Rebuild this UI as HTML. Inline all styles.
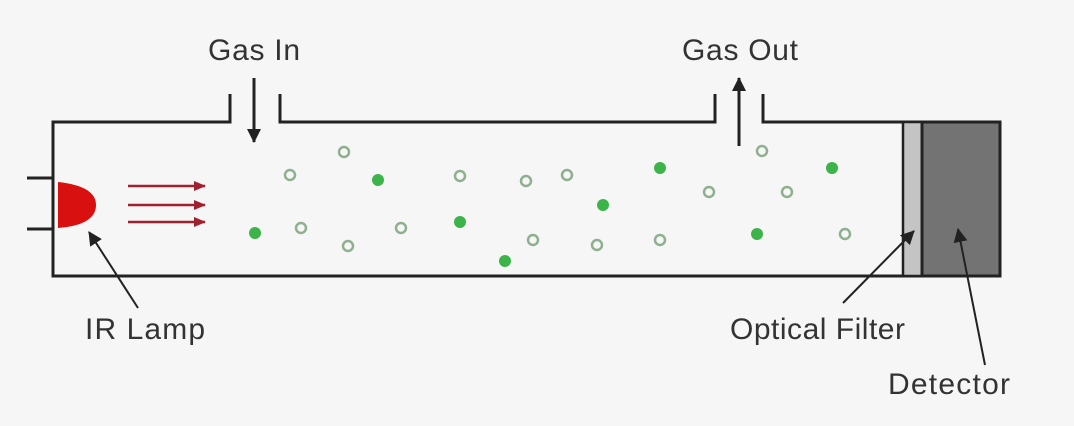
<!DOCTYPE html>
<html><head><style>
body{margin:0;background:#f6f6f6;}
svg{display:block}
text{font-family:"Liberation Sans",sans-serif;font-size:30px;fill:#333}
</style></head><body>
<svg width="1074" height="426" viewBox="0 0 1074 426">
<defs>
<marker id="b" markerWidth="14" markerHeight="14" refX="13" refY="7" orient="auto" markerUnits="userSpaceOnUse"><path d="M0,0 L14,7 L0,14z" fill="#222"/></marker>
<marker id="r" markerWidth="12" markerHeight="10" refX="11" refY="5" orient="auto" markerUnits="userSpaceOnUse"><path d="M0,0 L12,5 L0,10z" fill="#a02030"/></marker>
</defs>
<rect x="0" y="0" width="1074" height="426" fill="#f6f6f6"/>
<g stroke="#222" stroke-width="3" fill="none">
<path d="M230,94 V122 H53 V276 H1000 V122 H763 V94"/>
<path d="M280,94 V122 H715 V94"/>
<path d="M27,178 H53 M27,229 H53"/>
</g>
<rect x="903" y="122" width="19" height="154" fill="#c4c4c4" stroke="#222" stroke-width="2.5"/>
<rect x="922" y="122" width="78" height="154" fill="#737373" stroke="#222" stroke-width="3"/>
<path d="M58,182 Q96,186 96,205 Q96,225 58,228 Z" fill="#d81010"/>
<g stroke="#a02030" stroke-width="2.5" marker-end="url(#r)">
<line x1="128" y1="186" x2="205" y2="186"/>
<line x1="128" y1="205" x2="205" y2="205"/>
<line x1="128" y1="222" x2="205" y2="222"/>
</g>
<g stroke="#222" stroke-width="3">
<line x1="254" y1="78" x2="254" y2="142" marker-end="url(#b)"/>
<line x1="739" y1="146" x2="739" y2="78" marker-end="url(#b)"/>
</g>
<g stroke="#222" stroke-width="2">
<line x1="138" y1="308" x2="89" y2="232" marker-end="url(#b)"/>
<line x1="843" y1="303" x2="914" y2="231" marker-end="url(#b)"/>
<line x1="985" y1="365" x2="958" y2="229" marker-end="url(#b)"/>
</g>
<g fill="none" stroke="#8fb08f" stroke-width="2.5">
<circle cx="344" cy="152" r="5"/><circle cx="290" cy="175" r="5"/><circle cx="460" cy="176" r="5"/>
<circle cx="526" cy="181" r="5"/><circle cx="567" cy="175" r="5"/><circle cx="709" cy="192" r="5"/>
<circle cx="787" cy="192" r="5"/><circle cx="762" cy="151" r="5"/><circle cx="301" cy="228" r="5"/>
<circle cx="348" cy="246" r="5"/><circle cx="401" cy="228" r="5"/><circle cx="533" cy="240" r="5"/>
<circle cx="597" cy="245" r="5"/><circle cx="660" cy="240" r="5"/><circle cx="845" cy="234" r="5"/>
</g>
<g fill="#3cb44a">
<circle cx="378" cy="180" r="6"/><circle cx="660" cy="168" r="6"/><circle cx="603" cy="205" r="6"/>
<circle cx="832" cy="168" r="6"/><circle cx="255" cy="233" r="6"/><circle cx="460" cy="222" r="6"/>
<circle cx="505" cy="261" r="6"/><circle cx="757" cy="234" r="6"/>
</g>
<text x="254" y="60" text-anchor="middle" textLength="92">Gas In</text>
<text x="740" y="60" text-anchor="middle" textLength="116">Gas Out</text>
<text x="85" y="339" textLength="120">IR Lamp</text>
<text x="730" y="339" textLength="175">Optical Filter</text>
<text x="888" y="394" textLength="122">Detector</text>
</svg>
</body></html>
